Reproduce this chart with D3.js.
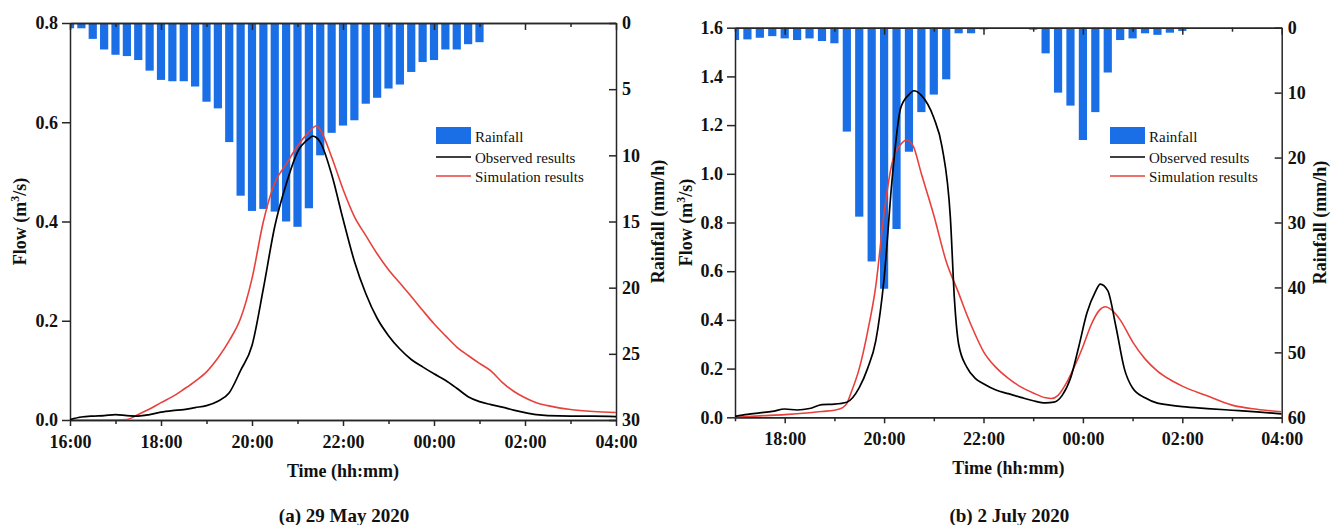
<!DOCTYPE html>
<html>
<head>
<meta charset="utf-8">
<script src="https://cdn.jsdelivr.net/npm/d3@7"></script>
<style>
    body { margin: 0; background: #fff; }
    svg { display: block; font-family: "Liberation Serif", "Times New Roman", serif; }
    .axis path, .axis line { stroke: #262626; stroke-width: 1.5; }
    .axis text { font-size: 18px; font-weight: bold; fill: #111; font-family: "Liberation Serif", serif; }
    .title { font-size: 18px; font-weight: bold; fill: #111; }
    .legend { font-size: 15px; fill: #111; }
</style>
</head>
<body>
<div id="chart"></div>
<script>
// ---- Panel (a) 29 May 2020 ----
const rainTimesA = ["16:00","16:15","16:30","16:45","17:00","17:15","17:30","17:45",
    "18:00","18:15","18:30","18:45","19:00","19:15","19:30","19:45",
    "20:00","20:15","20:30","20:45","21:00","21:15","21:30","21:45",
    "22:00","22:15","22:30","22:45","23:00","23:15","23:30","23:45",
    "00:00","00:15","00:30","00:45","01:00"];
const rainA = [0.4,0.4,1.2,2.0,2.4,2.5,2.8,3.6,4.3,4.4,4.4,4.8,5.95,6.45,9.0,13.05,
    14.2,14.05,14.25,15.0,15.4,14.0,10.0,8.3,7.75,7.35,6.1,5.65,4.95,4.65,3.7,2.95,
    2.8,2.0,2.0,1.6,1.45];

const observedA = [
    ["16:00",0.001],["16:15",0.006],["16:30",0.008],["16:45",0.009],["17:00",0.011],
    ["17:15",0.009],["17:30",0.008],["17:45",0.011],["18:00",0.016],["18:15",0.019],
    ["18:30",0.021],["18:45",0.025],["19:00",0.029],["19:15",0.038],["19:30",0.055],
    ["19:45",0.100],["20:00",0.150],["20:15",0.265],["20:30",0.390],["20:45",0.475],
    ["21:00",0.540],["21:15",0.567],["21:20",0.572],["21:30",0.560],["21:45",0.495],
    ["22:00",0.405],["22:15",0.320],["22:30",0.255],["22:45",0.205],["23:00",0.170],
    ["23:15",0.143],["23:30",0.122],["23:45",0.107],["00:00",0.093],["00:15",0.080],
    ["00:30",0.064],["00:45",0.047],["01:00",0.037],["01:15",0.031],["01:30",0.026],
    ["01:45",0.020],["02:00",0.015],["02:15",0.011],["02:30",0.009],["03:00",0.008],
    ["03:30",0.008],["04:00",0.007]
];
const simulatedA = [
    ["16:00",0],["16:30",0],["17:00",0],["17:15",0.001],["17:30",0.011],
    ["17:45",0.022],["18:00",0.035],["18:15",0.047],["18:30",0.062],["18:45",0.078],
    ["19:00",0.097],["19:15",0.125],["19:30",0.160],["19:45",0.205],["20:00",0.285],
    ["20:15",0.400],["20:30",0.478],["20:45",0.515],["21:00",0.552],["21:15",0.580],
    ["21:25",0.593],["21:30",0.585],["21:45",0.530],["22:00",0.465],["22:15",0.410],
    ["22:30",0.372],["22:45",0.335],["23:00",0.303],["23:15",0.276],["23:30",0.249],
    ["23:45",0.221],["00:00",0.194],["00:15",0.170],["00:30",0.147],["00:45",0.130],
    ["01:00",0.114],["01:15",0.099],["01:30",0.076],["01:45",0.058],["02:00",0.045],
    ["02:15",0.035],["02:30",0.029],["03:00",0.021],["03:30",0.017],["04:00",0.015]
];
const flowTicksA = [0, 0.2, 0.4, 0.6, 0.8];
const rainTicksA = [0, 5, 10, 15, 20, 25, 30];

// ---- Panel (b) 2 July 2020 ----
const rainTimesB = ["17:00","17:15","17:30","17:45","18:00","18:15","18:30","18:45",
    "19:00","19:15","19:30","19:45","20:00","20:15","20:30","20:45",
    "21:00","21:15","21:30","21:45","22:00","22:15","22:30","22:45",
    "23:00","23:15","23:30","23:45","00:00","00:15","00:30","00:45",
    "01:00","01:15","01:30","01:45","02:00"];
const rainB = [1.9,1.8,1.55,1.3,1.65,1.9,1.65,2.05,2.4,16.0,29.1,36.0,40.2,31.0,19.1,13.0,
    10.3,7.95,0.86,0.86,0.25,0.1,0.05,0.05,0.3,3.95,10.0,12.0,17.3,13.0,6.9,1.9,
    1.65,0.86,1.1,0.77,0.5];

const observedB = [
    ["17:00",0.004],["17:15",0.012],["17:30",0.018],["17:45",0.024],["18:00",0.034],
    ["18:15",0.030],["18:30",0.036],["18:45",0.052],["19:00",0.054],["19:15",0.062],
    ["19:30",0.122],["19:40",0.200],["19:50",0.315],["20:00",0.570],["20:10",0.990],
    ["20:20",1.270],["20:30",1.325],["20:36",1.341],["20:45",1.322],["21:00",1.230],
    ["21:10",1.110],["21:20",0.820],["21:25",0.480],["21:30",0.300],["21:40",0.205],
    ["21:50",0.160],["22:00",0.138],["22:15",0.112],["22:30",0.097],["22:45",0.082],
    ["23:00",0.068],["23:15",0.059],["23:25",0.062],["23:35",0.090],["23:45",0.160],
    ["23:55",0.290],["00:05",0.430],["00:15",0.515],["00:21",0.547],["00:30",0.520],
    ["00:40",0.370],["00:50",0.200],["01:00",0.120],["01:15",0.080],["01:30",0.058],
    ["01:45",0.050],["02:00",0.044],["02:30",0.036],["03:00",0.029],["03:30",0.022],
    ["04:00",0.014]
];
const simulatedB = [
    ["17:00",0],["17:30",0.006],["18:00",0.011],["18:30",0.019],["18:45",0.024],
    ["19:00",0.029],["19:10",0.040],["19:15",0.057],["19:20",0.100],["19:30",0.200],
    ["19:40",0.350],["19:50",0.540],["20:00",0.840],["20:10",1.050],["20:20",1.120],
    ["20:27",1.139],["20:35",1.115],["20:45",1.000],["21:00",0.830],["21:15",0.640],
    ["21:30",0.510],["21:40",0.420],["21:50",0.340],["22:00",0.270],["22:15",0.205],
    ["22:30",0.160],["22:45",0.125],["23:00",0.100],["23:15",0.080],["23:22",0.077],
    ["23:30",0.090],["23:40",0.140],["23:50",0.210],["00:00",0.290],["00:10",0.380],
    ["00:20",0.440],["00:27",0.454],["00:35",0.440],["00:45",0.400],["01:00",0.310],
    ["01:15",0.240],["01:30",0.190],["01:45",0.155],["02:00",0.128],["02:30",0.088],
    ["03:00",0.050],["03:30",0.033],["04:00",0.023]
];
const flowTicksB = [0, 0.2, 0.4, 0.6, 0.8, 1.0, 1.2, 1.4, 1.6];
const rainTicksB = [0, 10, 20, 30, 40, 50, 60];

const legendLabels = ["Rainfall", "Observed results", "Simulation results"];
const barColor = "#1a6fe6";
const obsColor = "#000000";
const simColor = "#e8413c";

const svg = d3.select("#chart").append("svg")
    .attr("width", 1331)
    .attr("height", 525);

svg.append("rect").attr("width", 1331).attr("height", 525).attr("fill", "#fff");

// turn "hh:mm" into a Date, times before noon belong to the next day
function toDate(year, month, day, hhmm) {
    const [h, m] = hhmm.split(":").map(Number);
    return new Date(year, month, day + (h < 12 ? 1 : 0), h, m);
}

function drawPanel(p) {
    const g = svg.append("g");
    const date = s => toDate(p.year, p.month, p.day, s);

    const x = d3.scaleTime()
        .domain([date(p.start), date(p.end)])
        .range([p.left, p.right]);
    const y = d3.scaleLinear().domain([0, p.flowMax]).range([p.bottom, p.top]);
    const yR = d3.scaleLinear().domain([0, p.rainMax]).range([p.top, p.bottom]);

    const clipId = "clip-" + p.id;
    g.append("clipPath").attr("id", clipId)
        .append("rect")
        .attr("x", p.left).attr("y", p.top)
        .attr("width", p.right - p.left).attr("height", p.bottom - p.top);

    // rainfall bars hanging from the top
    const bw = 8.2;
    g.append("g").attr("clip-path", `url(#${clipId})`)
        .selectAll("rect")
        .data(p.rainTimes.map((t, i) => ({ t: date(t), v: p.rain[i] })))
        .join("rect")
        .attr("x", d => x(d.t) - bw / 2)
        .attr("y", yR(0))
        .attr("width", bw)
        .attr("height", d => yR(d.v) - yR(0))
        .attr("fill", barColor);

    // hourly ticks
    const hours = d3.timeHour.range(date(p.start), d3.timeMinute.offset(date(p.end), 1));
    const major = hours.filter(d => d.getHours() % 2 === 0);
    const minor = hours.filter(d => d.getHours() % 2 === 1);
    const fmt = d3.timeFormat("%H:%M");

    g.append("g").attr("class", "axis")
        .attr("transform", `translate(0,${p.bottom})`)
        .call(d3.axisBottom(x).tickValues(minor).tickSize(4).tickSizeOuter(0).tickFormat(""));
    g.append("g").attr("class", "axis")
        .attr("transform", `translate(0,${p.bottom})`)
        .call(d3.axisBottom(x).tickValues(major).tickSize(6).tickSizeOuter(0)
            .tickPadding(9).tickFormat(fmt));

    g.append("g").attr("class", "axis")
        .attr("transform", `translate(0,${p.top})`)
        .call(d3.axisTop(x).tickValues(minor).tickSize(-4).tickSizeOuter(0).tickFormat(""));
    g.append("g").attr("class", "axis")
        .attr("transform", `translate(0,${p.top})`)
        .call(d3.axisTop(x).tickValues(major).tickSize(-7).tickSizeOuter(0).tickFormat(""));

    g.append("g").attr("class", "axis")
        .attr("transform", `translate(${p.left},0)`)
        .call(d3.axisLeft(y).tickValues(p.flowTicks).tickSize(8).tickSizeOuter(0)
            .tickPadding(4).tickFormat(d3.format(".1f")));

    g.append("g").attr("class", "axis")
        .attr("transform", `translate(${p.right},0)`)
        .call(d3.axisRight(yR).tickValues(p.rainTicks).tickSize(-7).tickSizeOuter(0)
            .tickPadding(6).tickFormat(d3.format("d")));

    // flow lines
    const line = d3.line()
        .x(d => x(date(d[0])))
        .y(d => y(d[1]))
        .curve(d3.curveMonotoneX);

    const lines = g.append("g").attr("clip-path", `url(#${clipId})`);
    lines.append("path").datum(p.simulated)
        .attr("d", line).attr("fill", "none")
        .attr("stroke", simColor).attr("stroke-width", 1.6);
    lines.append("path").datum(p.observed)
        .attr("d", line).attr("fill", "none")
        .attr("stroke", obsColor).attr("stroke-width", 1.7);

    // axis titles
    const midX = (p.left + p.right) / 2;
    const midY = (p.top + p.bottom) / 2;
    g.append("text").attr("class", "title")
        .attr("x", midX).attr("y", p.bottom + 57)
        .attr("text-anchor", "middle")
        .text("Time (hh:mm)");

    const flowTitle = g.append("text").attr("class", "title")
        .attr("text-anchor", "middle")
        .attr("transform", `translate(${p.flowTitleX},${midY}) rotate(-90)`);
    flowTitle.append("tspan").text("Flow (m");
    flowTitle.append("tspan").attr("font-size", "12px").attr("dy", -7).text("3");
    flowTitle.append("tspan").attr("dy", 7).text("/s)");

    g.append("text").attr("class", "title")
        .attr("text-anchor", "middle")
        .attr("transform", `translate(${p.rainTitleX},${midY}) rotate(-90)`)
        .text("Rainfall (mm/h)");

    g.append("text").attr("class", "title")
        .style("font-size", "19px")
        .attr("x", midX + 1).attr("y", 522)
        .attr("text-anchor", "middle")
        .text(p.caption);

    // legend
    const lg = g.append("g").attr("transform", `translate(${p.legendX},${p.legendY})`);
    lg.append("rect").attr("x", 0).attr("y", 0).attr("width", 35).attr("height", 17)
        .attr("fill", barColor);
    lg.append("line").attr("x1", 0).attr("x2", 35).attr("y1", 30).attr("y2", 30)
        .attr("stroke", obsColor).attr("stroke-width", 1.5);
    lg.append("line").attr("x1", 0).attr("x2", 35).attr("y1", 49).attr("y2", 49)
        .attr("stroke", simColor).attr("stroke-width", 1.5);
    lg.selectAll("text.legend")
        .data(legendLabels)
        .join("text")
        .attr("class", "legend")
        .attr("x", 39)
        .attr("y", (d, i) => [14.5, 36, 55][i])
        .text(d => d);
}

drawPanel({
    id: "a", year: 2020, month: 4, day: 29, start: "16:00", end: "04:00",
    left: 70, right: 616, top: 23, bottom: 420,
    flowMax: 0.8, rainMax: 30, flowTicks: flowTicksA, rainTicks: rainTicksA,
    rainTimes: rainTimesA, rain: rainA, observed: observedA, simulated: simulatedA,
    flowTitleX: 26, rainTitleX: 664, legendX: 436, legendY: 127,
    caption: "(a) 29 May 2020"
});

drawPanel({
    id: "b", year: 2020, month: 6, day: 2, start: "17:00", end: "04:00",
    left: 735, right: 1281.7, top: 27.7, bottom: 417.3,
    flowMax: 1.6, rainMax: 60, flowTicks: flowTicksB, rainTicks: rainTicksB,
    rainTimes: rainTimesB, rain: rainB, observed: observedB, simulated: simulatedB,
    flowTitleX: 692, rainTitleX: 1326, legendX: 1110, legendY: 127,
    caption: "(b) 2 July 2020"
});
</script>
</body>
</html>
